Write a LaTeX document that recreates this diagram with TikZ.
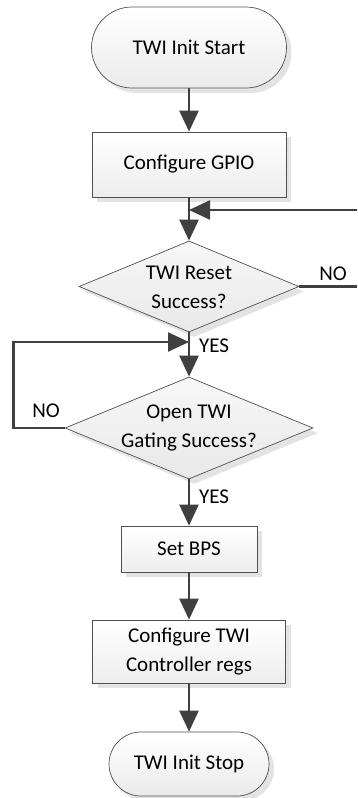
\documentclass[tikz,border=0pt]{standalone}
\usepackage{fontspec}
\setmainfont{Carlito}
\usetikzlibrary{arrows.meta,shapes.geometric,shapes.misc,shadows}
\definecolor{lineC}{HTML}{404040}
\definecolor{edgeC}{HTML}{505050}
\begin{document}
\begin{tikzpicture}[x=1pt,y=-1pt,
  txt/.style={font=\fontsize{21}{29}\selectfont, text=black, align=center, inner sep=0pt},
  base/.style={txt, draw=edgeC, line width=0.7pt,
    drop shadow={shadow xshift=5pt, shadow yshift=-5pt, fill=black!11, opacity=1}},
  term/.style={base, rounded rectangle, top color=white, bottom color=gray!16},
  procbox/.style={base, rectangle, top color=white, bottom color=gray!14},
  decision/.style={base, diamond, top color=gray!6, bottom color=gray!18},
  conn/.style={draw=lineC, line width=2.4pt},
  arr/.style={conn, -{Triangle[length=21pt,width=19pt]}}
]
\useasboundingbox (0,0) rectangle (357,798);
\clip (0,0) rectangle (357,798);

\node[term, minimum width=195pt, minimum height=81pt] (start) at (189,47.5) {TWI Init Start};
\node[procbox, minimum width=194pt, minimum height=65pt] (gpio) at (189,164.5) {Configure GPIO};
\node[decision, minimum width=220pt, minimum height=91pt] (d1) at (189,286.5) {};
\node[txt] (d1t) at (189,287.5) {TWI Reset\\Success?};
\node[decision, minimum width=248pt, minimum height=102pt] (d2) at (189,428) {};
\node[txt] (d2t) at (189,427.5) {Open TWI\\Gating Success?};
\node[procbox, minimum width=136pt, minimum height=46pt] (bps) at (189,549) {Set BPS};
\node[procbox, minimum width=193pt, minimum height=63pt] (cfg) at (189,651.5) {Configure TWI\\Controller regs};
\node[term, minimum width=160pt, minimum height=64pt] (stop) at (189,764) {TWI Init Stop};

\coordinate (j1) at (189,210);
\coordinate (j2) at (189,342);

\node[txt] (no1) at (333,274) {NO};
\node[txt] (yes1) at (214,346) {YES};
\node[txt] (no2) at (46,411) {NO};
\node[txt] (yes2) at (214,497) {YES};

\draw[arr] (start.south) -- (gpio.north);
\draw[arr] (gpio.south) -- (d1.north);
\draw[arr] (d1.east) -- ++(64,0) |- (j1);
\draw[arr] (d1.south) -- (d2.north);
\draw[arr] (d2.west) -- ++(-51,0) |- (j2);
\draw[arr] (d2.south) -- (bps.north);
\draw[arr] (bps.south) -- (cfg.north);
\draw[arr] (cfg.south) -- (stop.north);
\end{tikzpicture}
\end{document}
